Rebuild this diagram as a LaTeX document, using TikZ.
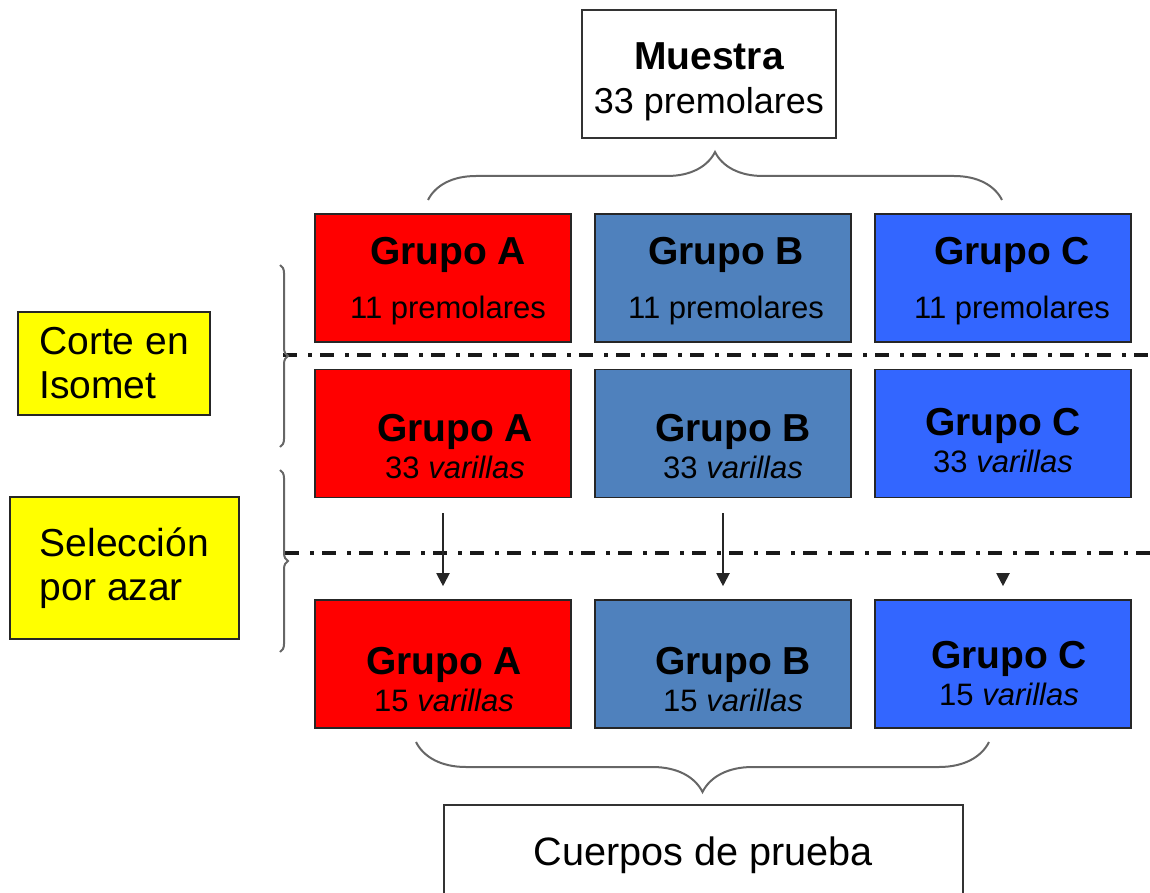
\documentclass[tikz,border=0pt]{standalone}
\usepackage{fontspec}
\setmainfont{Liberation Sans}
\usetikzlibrary{positioning,arrows.meta,decorations.pathreplacing}

\definecolor{rojoA}{HTML}{FF0000}
\definecolor{azulB}{HTML}{4F81BD}
\definecolor{azulC}{HTML}{3366FF}
\definecolor{amarillo}{HTML}{FFFF00}

\newcommand{\titulo}[1]{{\fontsize{19.5}{19.5}\selectfont\bfseries #1}}
% #1 desplazamiento horizontal (doble), #2 altura de la primera linea
\newcommand{\grupo}[4]{\hspace*{#1}\titulo{#3}\rule{0pt}{#2}\\\hspace*{#1}#4}

\begin{document}
\begin{tikzpicture}[%
    >={Triangle[length=6.5pt,width=6.5pt]},
    x=0.5pt, y=-0.5pt,
    node distance=140pt,
    on grid,
    caja/.style={draw=black!85, line width=0.8pt, minimum width=128pt,
        minimum height=64pt, inner sep=0pt, align=center,
        font=\fontsize{15.5}{18.5}\selectfont},
    fila1/.style={caja, font=\fontsize{15.5}{27}\selectfont},
    nota/.style={draw=black!85, fill=amarillo, line width=0.8pt,
        inner sep=0pt, align=left, font=\fontsize{19.5}{22}\selectfont},
    marco/.style={draw=black!80, line width=1pt, inner sep=0pt, align=center},
    llave/.style={decorate, decoration={brace, amplitude=#1},
        draw=black!60, line width=1pt},
    corte/.style={draw=black!90, line width=1.8pt,
        dash pattern=on 7pt off 5.5pt on 2pt off 4pt},
    flecha/.style={->, draw=black!85, line width=1pt}
    ]

    \useasboundingbox (0,0) rectangle (1150,893);

    \node[marco, minimum width=127pt, minimum height=64pt,
        font=\fontsize{18}{22}\selectfont] (muestra) at (709,74)
        {\titulo{Muestra}\rule{0pt}{21.5pt}\\33 premolares};

    \node[fila1, fill=rojoA] (ga1) at (443,278) {\grupo{5pt}{16.5pt}{Grupo A}{11 premolares}};
    \node[fila1, fill=azulB] (gb1) [right=of ga1] {\grupo{3pt}{16.5pt}{Grupo B}{11 premolares}};
    \node[fila1, fill=azulC] (gc1) [right=of gb1] {\grupo{9pt}{16.5pt}{Grupo C}{11 premolares}};

    \node[caja, fill=rojoA] (ga2) [below=77.75pt of ga1] {\grupo{12pt}{26.5pt}{Grupo A}{33 \textit{varillas}}};
    \node[caja, fill=azulB] (gb2) [right=of ga2] {\grupo{10pt}{26.5pt}{Grupo B}{33 \textit{varillas}}};
    \node[caja, fill=azulC] (gc2) [right=of gb2] {\grupo{0pt}{20.5pt}{Grupo C}{33 \textit{varillas}}};

    \node[caja, fill=rojoA] (ga3) [below=115.25pt of ga2] {\grupo{1pt}{29.5pt}{Grupo A}{15 \textit{varillas}}};
    \node[caja, fill=azulB] (gb3) [right=of ga3] {\grupo{10pt}{29.5pt}{Grupo B}{15 \textit{varillas}}};
    \node[caja, fill=azulC] (gc3) [right=of gb3] {\grupo{6pt}{23.5pt}{Grupo C}{15 \textit{varillas}}};

    \node[nota, minimum width=96pt, minimum height=51.5pt] (isomet) at (114,363.5)
        {Corte en\\Isomet};
    \node[nota, minimum width=114.5pt, minimum height=71pt] (azar) at (124.5,568)
        {Selección\\por azar};

    \node[marco, minimum width=259.5pt, minimum height=50pt,
        font=\fontsize{19.8}{24}\selectfont] (cuerpos) at (703,855)
        {Cuerpos de prueba};

    \draw[corte] (283,355) -- (1150,355);
    \draw[corte] (285,553) -- (1150,553);

    \draw[llave=24pt] (428,200) -- (1002,200);
    \draw[llave=25pt] (989,742) -- (416,742);
    \draw[llave=4pt] (280,265) -- (280,447);
    \draw[llave=4pt] (280,470) -- (280,652);

    \draw[flecha, shorten <=7.5pt, shorten >=6.5pt] (ga2.south) -- (ga3.north);
    \draw[flecha, shorten <=7.5pt, shorten >=6.5pt] (gb2.south) -- (gb3.north);
    \draw[flecha, shorten <=37.5pt, shorten >=6.5pt] (gc2.south) -- (gc3.north);

\end{tikzpicture}
\end{document}
